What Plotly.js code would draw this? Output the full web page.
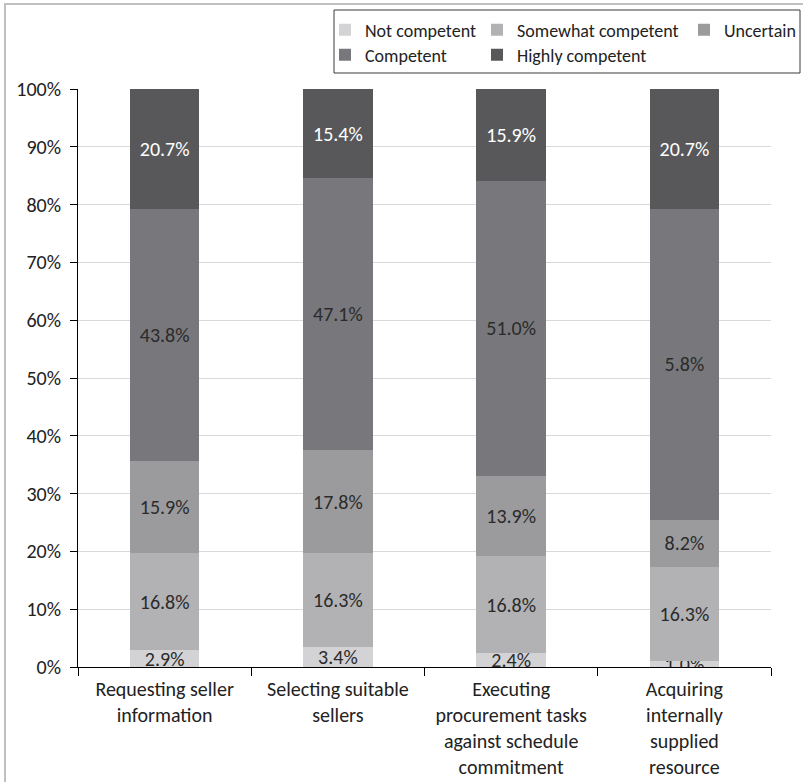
<!DOCTYPE html>
<html>
<head>
<meta charset="utf-8">
<script src="https://cdn.plot.ly/plotly-3.0.1.min.js"></script>
<style>
  html, body { margin: 0; padding: 0; background: #fff; }
  #wrap { position: relative; width: 803px; height: 782px; overflow: hidden; }
  #chart { position: absolute; left: 0; top: 0; width: 803px; height: 782px; }
  #frame { position: absolute; left: 4px; top: 3px; width: 810px; height: 800px;
           border-top: 2px solid #c0c0c0; border-left: 2px solid #c0c0c0; pointer-events: none; }
</style>
</head>
<body>
<div id="wrap">
  <div id="chart"></div>
  <div id="frame"></div>
</div>
<script>
// Categories (x axis)
const categories = [
  "Requesting seller<br>information",
  "Selecting suitable<br>sellers",
  "Executing<br>procurement tasks<br>against schedule<br>commitment",
  "Acquiring<br>internally<br>supplied<br>resource"
];

// Series names
const seriesNames = ["Not competent", "Somewhat competent", "Uncertain", "Competent", "Highly competent"];

// Series values (%)
const notCompetent      = [2.9, 3.4, 2.4, 1.0];
const somewhatCompetent = [16.8, 16.3, 16.8, 16.3];
const uncertain         = [15.9, 17.8, 13.9, 8.2];
const competent         = [43.8, 47.1, 51.0, 53.8];
const highlyCompetent   = [20.7, 15.4, 15.9, 20.7];

// Data labels as printed in the original figure
const notCompetentLabels      = ["2.9%", "3.4%", "2.4%", "1.0%"];
const somewhatCompetentLabels = ["16.8%", "16.3%", "16.8%", "16.3%"];
const uncertainLabels         = ["15.9%", "17.8%", "13.9%", "8.2%"];
const competentLabels         = ["43.8%", "47.1%", "51.0%", "5.8%"];
const highlyCompetentLabels   = ["20.7%", "15.4%", "15.9%", "20.7%"];

// Y tick labels
const yTickVals = [0, 10, 20, 30, 40, 50, 60, 70, 80, 90, 100];
const yTickText = ["0%", "10%", "20%", "30%", "40%", "50%", "60%", "70%", "80%", "90%", "100%"];

const FONT = "Carlito, Lato, 'Liberation Sans', sans-serif";
const colors = ["#d3d3d5", "#b2b2b5", "#9b9b9e", "#78787c", "#58585b"];
const textColors = ["#2b2b2b", "#2b2b2b", "#2b2b2b", "#2b2b2b", "#ffffff"];
const values = [notCompetent, somewhatCompetent, uncertain, competent, highlyCompetent];
const labels = [notCompetentLabels, somewhatCompetentLabels, uncertainLabels, competentLabels, highlyCompetentLabels];
const legendIds = ["legend", "legend", "legend", "legend2", "legend2"];
const legendWidths = [107, 162, 90, 107, 140];

const traces = seriesNames.map((name, i) => ({
  type: "bar",
  name: name,
  x: categories,
  y: values[i],
  text: labels[i],
  textposition: "inside",
  insidetextanchor: "middle",
  constraintext: "none",
  textangle: 0,
  textfont: { family: FONT, size: 20, color: textColors[i] },
  marker: { color: colors[i], line: { width: 0 } },
  width: 0.4,
  legend: legendIds[i],
  legendwidth: legendWidths[i],
  hoverinfo: "none",
  cliponaxis: true
}));

const legendCommon = {
  orientation: "h",
  xref: "paper", yref: "paper",
  xanchor: "left", yanchor: "middle",
  font: { family: FONT, size: 18, color: "#222" },
  bgcolor: "rgba(0,0,0,0)",
  borderwidth: 0,
  itemwidth: 30,
  traceorder: "normal",
  itemclick: false, itemdoubleclick: false
};

const layout = {
  width: 803, height: 782,
  margin: { l: 78, r: 32, t: 89, b: 115, autoexpand: false },
  paper_bgcolor: "#ffffff",
  plot_bgcolor: "#ffffff",
  barmode: "stack",
  barnorm: "percent",
  bargap: 0.6,
  font: { family: FONT, size: 20, color: "#222" },
  xaxis: {
    type: "category",
    tickson: "boundaries",
    ticks: "outside",
    ticklen: 8,
    tickcolor: "#000",
    tickwidth: 1,
    showline: true,
    linecolor: "#000",
    linewidth: 1,
    showgrid: false,
    ticklabelstandoff: 4,
    tickfont: { family: FONT, size: 20, color: "#222" },
    automargin: false
  },
  yaxis: {
    range: [0, 100],
    tickvals: yTickVals,
    ticktext: yTickText,
    ticks: "outside",
    ticklen: 7,
    tickcolor: "#000",
    tickwidth: 1,
    showline: true,
    linecolor: "#000",
    linewidth: 1,
    showgrid: true,
    gridcolor: "#d9d9d9",
    gridwidth: 1,
    zeroline: false,
    ticklabelstandoff: 5,
    tickfont: { family: FONT, size: 20, color: "#222" },
    automargin: false
  },
  legend: Object.assign({}, legendCommon, { x: (325 - 78) / 693, y: (667 - 30) / 578 }),
  legend2: Object.assign({}, legendCommon, { x: (325 - 78) / 693, y: (667 - 55) / 578 }),
  shapes: [
    {
      type: "rect", xref: "paper", yref: "paper",
      x0: (334 - 78) / 693, x1: (800 - 78) / 693,
      y0: (667 - 73) / 578, y1: (667 - 10) / 578,
      line: { color: "#3a3a3a", width: 1 },
      fillcolor: "rgba(0,0,0,0)"
    }
  ],
  showlegend: true
};

Plotly.newPlot("chart", traces, layout, { displayModeBar: false, staticPlot: true });
</script>
</body>
</html>
